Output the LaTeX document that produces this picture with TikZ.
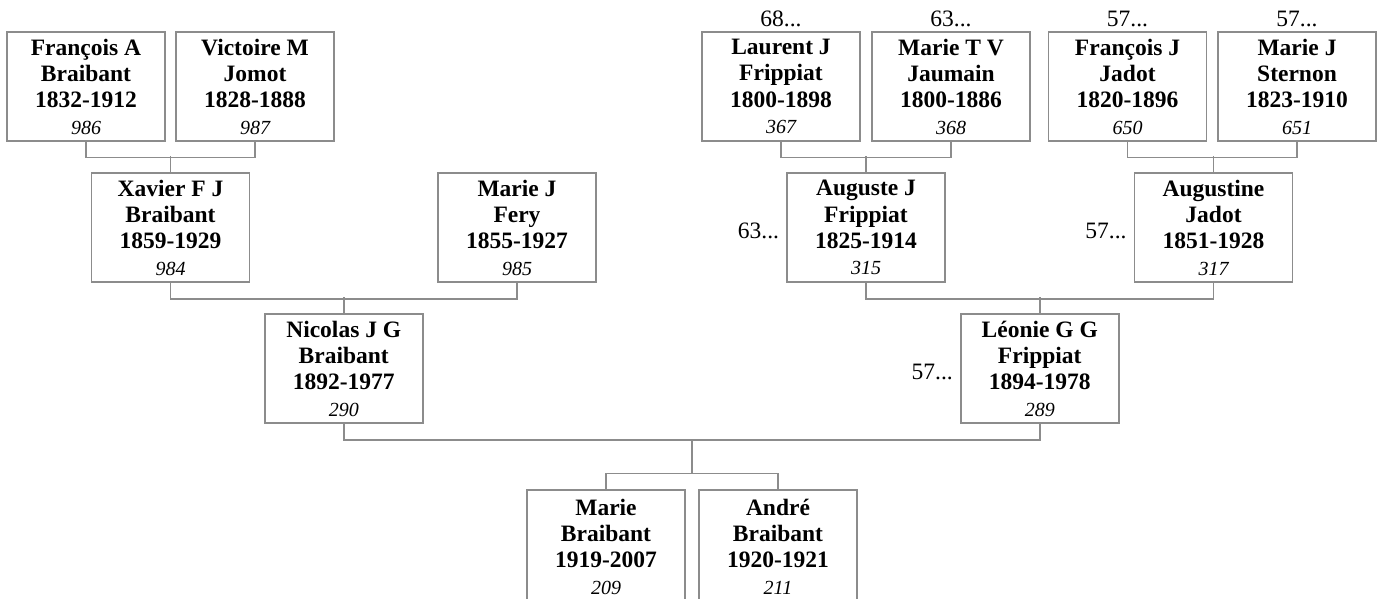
\documentclass[tikz,border=0pt]{standalone}
\usepackage{fontspec}
\setmainfont{Liberation Serif}
\usetikzlibrary{calc}
\definecolor{lc}{RGB}{140,140,140}
\newcommand{\pnum}[1]{{\fontsize{20}{26.3}\selectfont\mdseries\itshape #1}}
\begin{document}
\begin{tikzpicture}[x=1pt,y=-1pt,
  person/.style={draw=lc, line width=1.5pt, minimum width=158pt, minimum height=109pt,
    inner sep=0pt, align=center, font=\fontsize{23.5}{26.3}\selectfont\bfseries},
  lab/.style={inner sep=0pt, font=\fontsize{23.5}{26}\selectfont},
  conn/.style={draw=lc, line width=1.5pt}]
\useasboundingbox (0,0) rectangle (1382,599);
% row 1
\node[person] (fa) at (86,86.5) {François A\\Braibant\\1832-1912\\\pnum{986}};
\node[person] (vm) at (255,86.5) {Victoire M\\Jomot\\1828-1888\\\pnum{987}};
\node[person] (lj) at (781,86.5) {Laurent J\\Frippiat\\1800-1898\\\pnum{367}};
\node[person] (mt) at (951,86.5) {Marie T V\\Jaumain\\1800-1886\\\pnum{368}};
\node[person] (fj) at (1127.5,86.5) {François J\\Jadot\\1820-1896\\\pnum{650}};
\node[person] (ms) at (1297,86.5) {Marie J\\Sternon\\1823-1910\\\pnum{651}};
% row 2
\node[person] (xa) at (170.5,227.5) {Xavier F J\\Braibant\\1859-1929\\\pnum{984}};
\node[person] (mf) at (517,227.5) {Marie J\\Fery\\1855-1927\\\pnum{985}};
\node[person] (aj) at (866,227.5) {Auguste J\\Frippiat\\1825-1914\\\pnum{315}};
\node[person] (au) at (1213.5,227.5) {Augustine\\Jadot\\1851-1928\\\pnum{317}};
% row 3
\node[person] (ni) at (343.75,368.5) {Nicolas J G\\Braibant\\1892-1977\\\pnum{290}};
\node[person] (le) at (1039.75,368.5) {Léonie G G\\Frippiat\\1894-1978\\\pnum{289}};
% row 4
\node[person, minimum height=113pt] (ma) at (606,546.5) {Marie\\Braibant\\1919-2007\\\pnum{209}};
\node[person, minimum height=113pt] (an) at (778,546.5) {André\\Braibant\\1920-1921\\\pnum{211}};
% labels
\node[lab, anchor=south] (l1) at ($(lj.north)+(0,-4)$) {68...};
\node[lab, anchor=south] (l2) at ($(mt.north)+(0,-4)$) {63...};
\node[lab, anchor=south] (l3) at ($(fj.north)+(0,-4)$) {57...};
\node[lab, anchor=south] (l4) at ($(ms.north)+(0,-4)$) {57...};
\node[lab, anchor=east] (l5) at ($(aj.west)+(-7,3)$) {63...};
\node[lab, anchor=east] (l6) at ($(au.west)+(-7,3)$) {57...};
\node[lab, anchor=east] (l7) at ($(le.west)+(-7,3)$) {57...};
% connectors
\draw[conn] (fa.south) -- ++(0,16) -| (vm.south);
\draw[conn] (xa.north) -- ++(0,-16);
\draw[conn] (lj.south) -- ++(0,16) -| (mt.south);
\draw[conn] (aj.north) -- ++(0,-16);
\draw[conn] (fj.south) -- ++(0,16) -| (ms.south);
\draw[conn] (au.north) -- ++(0,-16);
\draw[conn] (xa.south) -- ++(0,16) -| (mf.south);
\draw[conn] (ni.north) -- ++(0,-16);
\draw[conn] (aj.south) -- ++(0,16) -| (au.south);
\draw[conn] (le.north) -- ++(0,-16);
\draw[conn] (ni.south) -- ++(0,16) -| (le.south);
\coordinate (mid) at ($(ni.south)!0.5!(le.south)+(0,16)$);
\draw[conn] (ma.north) -- ++(0,-16) -| (an.north);
\draw[conn] (mid) -- ($(mid |- ma.north)+(0,-16)$);
\end{tikzpicture}
\end{document}
